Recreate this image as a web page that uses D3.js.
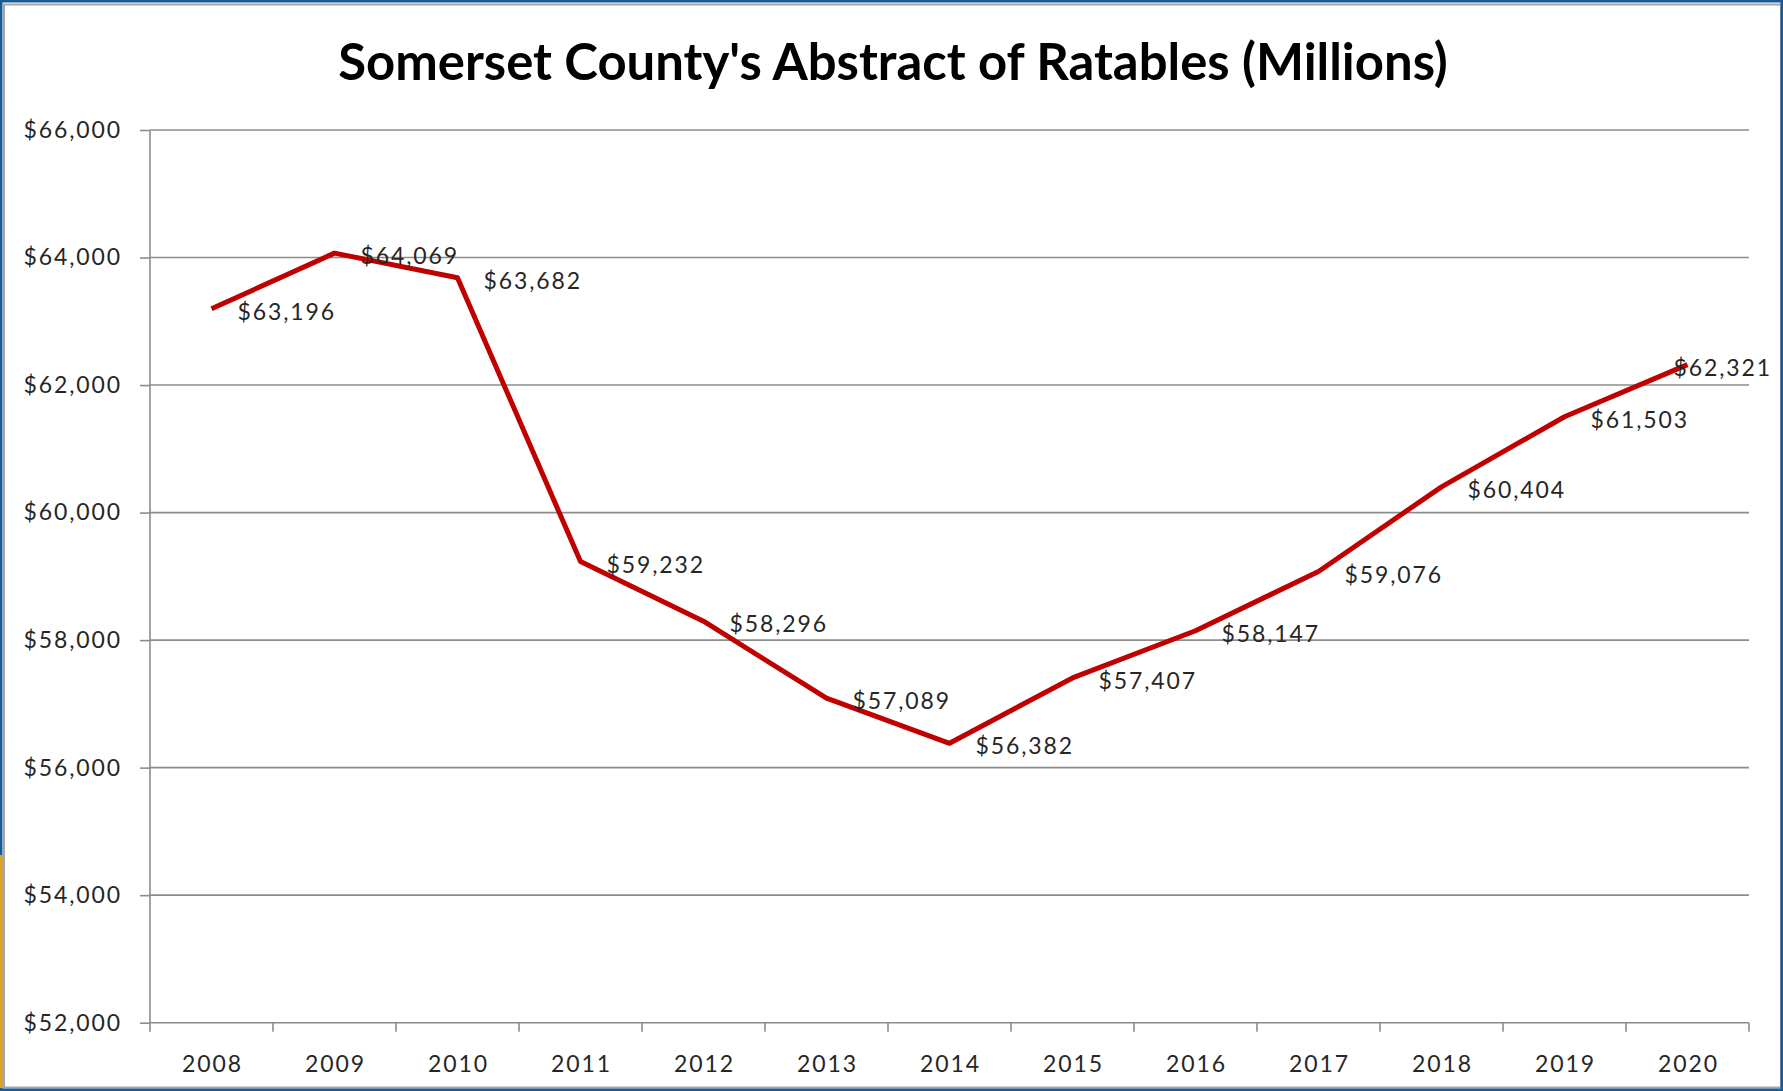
<!DOCTYPE html>
<html>
<head>
<meta charset="utf-8">
<script src="https://cdn.jsdelivr.net/npm/d3@7"></script>
<style>
  html, body { margin: 0; padding: 0; background: #fff; }
  svg { display: block; }
</style>
</head>
<body>
<svg id="chart" width="1783" height="1091"></svg>
<script>
const title = "Somerset County's Abstract of Ratables (Millions)";
const years = ["2008","2009","2010","2011","2012","2013","2014","2015","2016","2017","2018","2019","2020"];
const values = [63196, 64069, 63682, 59232, 58296, 57089, 56382, 57407, 58147, 59076, 60404, 61503, 62321];
const yTicks = [52000, 54000, 56000, 58000, 60000, 62000, 64000, 66000];

(function () {
const W = 1783, H = 1091;
const pL = 150, pR = 1749, pT = 130, pB = 1022.7;
const svg = d3.select("#chart");
const fontFam = "Lato, 'Open Sans', sans-serif";
const ls = "1.9px";
const fmt = v => "$" + d3.format(",")(v);

// frame
svg.append("rect").attr("x",0).attr("y",0).attr("width",W).attr("height",H).attr("fill","#fff");
svg.append("rect").attr("x",4).attr("y",4.5).attr("width",W-6).attr("height",H-8)
  .attr("fill","none").attr("stroke","#a6a6a6").attr("stroke-width",2);
svg.append("rect").attr("x",1.25).attr("y",1.25).attr("width",W-2.5).attr("height",H-2.5)
  .attr("fill","none").attr("stroke","#1c5a96").attr("stroke-width",2.5);
svg.append("line").attr("x1",1.25).attr("x2",1.25).attr("y1",855).attr("y2",H-3)
  .attr("stroke","#e8a21a").attr("stroke-width",2.5);

const x = d3.scaleBand().domain(years).range([pL, pR]).padding(0);
const y = d3.scaleLinear().domain([52000, 66000]).range([pB, pT]);

// gridlines
svg.append("g").selectAll("line").data(yTicks.filter(t => t !== 52000)).join("line")
  .attr("x1", pL).attr("x2", pR)
  .attr("y1", d => y(d)).attr("y2", d => y(d))
  .attr("stroke", "#8c8c8c").attr("stroke-width", 1.6);

// y axis
const yAxis = d3.axisLeft(y).tickValues(yTicks).tickFormat(fmt).tickSize(10).tickPadding(12);
const gy = svg.append("g").attr("transform", `translate(${pL},0)`).call(yAxis);
gy.select(".domain").attr("stroke","#8c8c8c").attr("stroke-width",1.6)
  .attr("d", `M0,${pT}V${pB + 9}`);
gy.selectAll(".tick line").attr("stroke","#8c8c8c").attr("stroke-width",1.6);
gy.selectAll(".tick text").attr("font-family", fontFam).attr("font-size", 23)
  .attr("letter-spacing", ls).attr("fill","#262626").attr("x", -28).attr("text-anchor","end");

// x axis
const xAxis = d3.axisBottom(x).tickSize(0).tickPadding(33);
const gx = svg.append("g").attr("transform", `translate(0,${pB})`).call(xAxis);
gx.select(".domain").attr("stroke","#8c8c8c").attr("stroke-width",1.6)
  .attr("d", `M${pL},0H${pR}`);
gx.selectAll(".tick text").attr("font-family", fontFam).attr("font-size", 23)
  .attr("letter-spacing", ls).attr("dx", 1).attr("fill","#262626");
const bounds = years.map(d => x(d)).concat([pR]);
gx.append("g").selectAll("line").data(bounds.slice(1)).join("line")
  .attr("x1", d => d).attr("x2", d => d).attr("y1", 0).attr("y2", 9)
  .attr("stroke","#8c8c8c").attr("stroke-width",1.6);

// line
const cx = d => x(d) + x.bandwidth() / 2;
const pts = years.map((yr, i) => ({ yr, v: values[i] }));
svg.append("path").datum(pts)
  .attr("d", d3.line().x(d => cx(d.yr)).y(d => y(d.v)))
  .attr("fill","none").attr("stroke","#c00000").attr("stroke-width",5)
  .attr("stroke-linejoin","round");

// data labels
const lbl = svg.append("g").selectAll("text").data(pts).join("text")
  .attr("font-family", fontFam).attr("font-size", 23).attr("fill","#262626")
  .attr("letter-spacing", ls)
  .attr("dominant-baseline","central")
  .attr("y", d => y(d.v) + 2)
  .text(d => fmt(d.v));
lbl.each(function(d) {
  const w = this.getComputedTextLength();
  const xs = Math.min(cx(d.yr) + 26, 1772 - w);
  d3.select(this).attr("x", xs);
});

// title
const t = svg.append("text").attr("x", 893).attr("y", 80)
  .attr("text-anchor","middle").attr("font-family", fontFam)
  .attr("font-weight","bold").attr("font-size", 48).attr("fill","#000")
  .text(title);
const tw = t.node().getComputedTextLength();
t.attr("font-size", 48 * 1110 / tw);
})();
</script>
</body>
</html>
